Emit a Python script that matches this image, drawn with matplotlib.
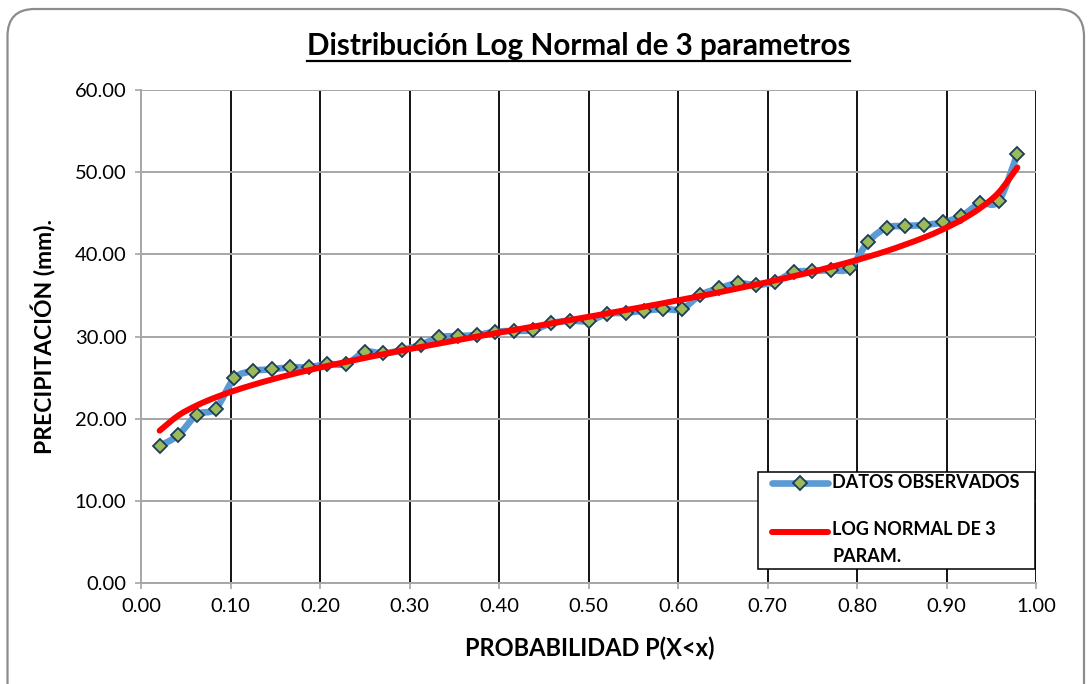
import numpy as np
import matplotlib
matplotlib.use("Agg")
import matplotlib.pyplot as plt
from matplotlib.path import Path
from matplotlib.patches import PathPatch, FancyBboxPatch, Rectangle
from matplotlib.lines import Line2D

plt.rcParams['font.family'] = ['Lato', 'DejaVu Sans']

# Weibull plotting positions, n = 47 observations
n_obs = 47
prob = [i / (n_obs + 1) for i in range(1, n_obs + 1)]

# Observed maximum precipitation (mm), sorted ascending
observed = [16.67, 18.00, 20.50, 21.20, 24.90, 25.80, 26.00, 26.25, 26.25, 26.65,
            26.65, 28.10, 27.95, 28.35, 29.00, 29.90, 30.06, 30.18, 30.58, 30.67,
            30.79, 31.60, 31.92, 31.89, 32.74, 32.90, 33.14, 33.35, 33.35, 35.05,
            35.86, 36.47, 36.27, 36.67, 37.81, 37.97, 38.09, 38.30, 41.54, 43.24,
            43.45, 43.57, 43.90, 44.66, 46.20, 46.49, 52.20]

# Fitted 3-parameter log-normal quantiles at the same probabilities
lognormal3 = [18.54, 20.38, 21.62, 22.59, 23.40, 24.11, 24.76, 25.35, 25.90, 26.42,
              26.91, 27.39, 27.85, 28.30, 28.72, 29.15, 29.57, 29.98, 30.39, 30.79,
              31.19, 31.59, 32.00, 32.40, 32.80, 33.22, 33.63, 34.05, 34.49, 34.93,
              35.38, 35.85, 36.33, 36.82, 37.34, 37.87, 38.46, 39.06, 39.71, 40.41,
              41.20, 42.05, 43.03, 44.19, 45.62, 47.53, 50.57]

x_ticks = [0.0, 0.1, 0.2, 0.3, 0.4, 0.5, 0.6, 0.7, 0.8, 0.9, 1.0]
y_ticks = [0, 10, 20, 30, 40, 50, 60]

title = "Distribución Log Normal de 3 parametros"
x_label = "PROBABILIDAD P(X<x)"
y_label = "PRECIPITACIÓN (mm)."
legend_obs = "DATOS OBSERVADOS"
legend_fit = "LOG NORMAL DE 3\nPARAM."

BLUE = "#5B9BD5"
RED = "#FF0000"
GREEN = "#9BBB59"
NAVY = "#1F3B5C"
GRID_GRAY = "#A6A6A6"


def smooth_path(xs, ys):
    """Catmull-Rom style cubic Bezier path through the given points."""
    pts = np.column_stack([xs, ys]).astype(float)
    ext = np.vstack([pts[0], pts, pts[-1]])
    verts = [tuple(pts[0])]
    codes = [Path.MOVETO]
    for i in range(len(pts) - 1):
        p0, p1, p2, p3 = ext[i], ext[i + 1], ext[i + 2], ext[i + 3]
        c1 = p1 + (p2 - p0) / 6.0
        c2 = p2 - (p3 - p1) / 6.0
        verts += [tuple(c1), tuple(c2), tuple(p2)]
        codes += [Path.CURVE4] * 3
    return Path(verts, codes)


W, H = 1091, 684
fig = plt.figure(figsize=(W / 100, H / 100), dpi=100)
fig.patch.set_facecolor("white")

# Rounded outer frame of the chart
frame = FancyBboxPatch((7.5 / W, -30 / H), (1084 - 7.5) / W, (H - 9 + 30) / H,
                       boxstyle="round,pad=0,rounding_size=0.025",
                       transform=fig.transFigure, facecolor="none",
                       edgecolor="#8C8C8C", linewidth=1.6, mutation_aspect=W / H)
fig.patches.append(frame)

ax_l, ax_r, ax_t, ax_b = 141, 1036, 90, 583
ax = fig.add_axes([ax_l / W, (H - ax_b) / H, (ax_r - ax_l) / W, (ax_b - ax_t) / H])
ax.set_xlim(0, 1)
ax.set_ylim(0, 60)
ax.set_xticks(x_ticks)
ax.set_yticks(y_ticks)
ax.set_xticklabels([f"{v:.2f}" for v in x_ticks])
ax.set_yticklabels([f"{v:.2f}" for v in y_ticks])
ax.tick_params(axis="both", direction="out", length=4.5, width=1.2,
               color=GRID_GRAY, labelsize=14.5, labelcolor="black", pad=6)

for side in ("top", "right"):
    ax.spines[side].set_visible(False)
for side in ("left", "bottom"):
    ax.spines[side].set_color(GRID_GRAY)
    ax.spines[side].set_linewidth(1.4)

# Horizontal gridlines in gray, vertical gridlines in black
ax.yaxis.grid(True, color=GRID_GRAY, linewidth=1.4)
ax.set_axisbelow(True)
for xv in x_ticks[1:]:
    ax.axvline(xv, color="black", linewidth=1.3, zorder=0.5)

# Observed series: smoothed thick blue line with diamond markers
ax.add_patch(PathPatch(smooth_path(prob, observed), facecolor="none",
                       edgecolor=BLUE, linewidth=4.8, capstyle="round",
                       joinstyle="round", zorder=2))
ax.plot(prob, observed, linestyle="none", marker="D", markersize=7.3,
        markerfacecolor=GREEN, markeredgecolor=NAVY, markeredgewidth=1.3, zorder=3)

# Fitted log-normal curve
ax.add_patch(PathPatch(smooth_path(prob, lognormal3), facecolor="none",
                       edgecolor=RED, linewidth=4.3, capstyle="round",
                       joinstyle="round", zorder=4))

# Legend box
lx0, lx1, ly0, ly1 = 758, 1035, 569, 472


def axx(px):
    return (px - ax_l) / (ax_r - ax_l)


def axy(py):
    return (ax_b - py) / (ax_b - ax_t)


ax.add_patch(Rectangle((axx(lx0), axy(ly0)), axx(lx1) - axx(lx0), axy(ly1) - axy(ly0),
                       transform=ax.transAxes, facecolor="white", edgecolor="black",
                       linewidth=1.1, zorder=6))
y1 = axy(482.7)
ax.add_line(Line2D([axx(772), axx(828)], [y1, y1], transform=ax.transAxes,
                   color=BLUE, linewidth=4.8, solid_capstyle="round", zorder=7))
ax.add_line(Line2D([axx(800)], [y1], transform=ax.transAxes, marker="D",
                   markersize=7.3, markerfacecolor=GREEN, markeredgecolor=NAVY,
                   markeredgewidth=1.3, zorder=8))
ax.text(axx(832), y1, legend_obs, transform=ax.transAxes, fontsize=13,
        fontweight="bold", va="center", ha="left", zorder=8)
y2 = axy(531.7)
ax.add_line(Line2D([axx(772), axx(828)], [y2, y2], transform=ax.transAxes,
                   color=RED, linewidth=4.3, solid_capstyle="round", zorder=7))
ax.text(axx(832), axy(521), legend_fit, transform=ax.transAxes, fontsize=13,
        fontweight="bold", va="top", ha="left", linespacing=1.75, zorder=8)

# Axis titles
fig.text(590 / W, 1 - 648 / H, x_label, fontsize=17, fontweight="bold",
         ha="center", va="center")
fig.text(44 / W, 1 - 337 / H, y_label, fontsize=16.5, fontweight="bold",
         ha="center", va="center", rotation=90)

# Underlined chart title
ttl = fig.text(578.5 / W, 1 - 46 / H, title, fontsize=21.3, fontweight="bold",
               ha="center", va="center")
fig.canvas.draw()
bb = ttl.get_window_extent(renderer=fig.canvas.get_renderer())
uy = (H - 61) / H
fig.add_artist(Line2D([bb.x0 / W, bb.x1 / W], [uy, uy], transform=fig.transFigure,
                      color="black", linewidth=1.6))

fig.savefig("out.png", dpi=100, facecolor="white")
